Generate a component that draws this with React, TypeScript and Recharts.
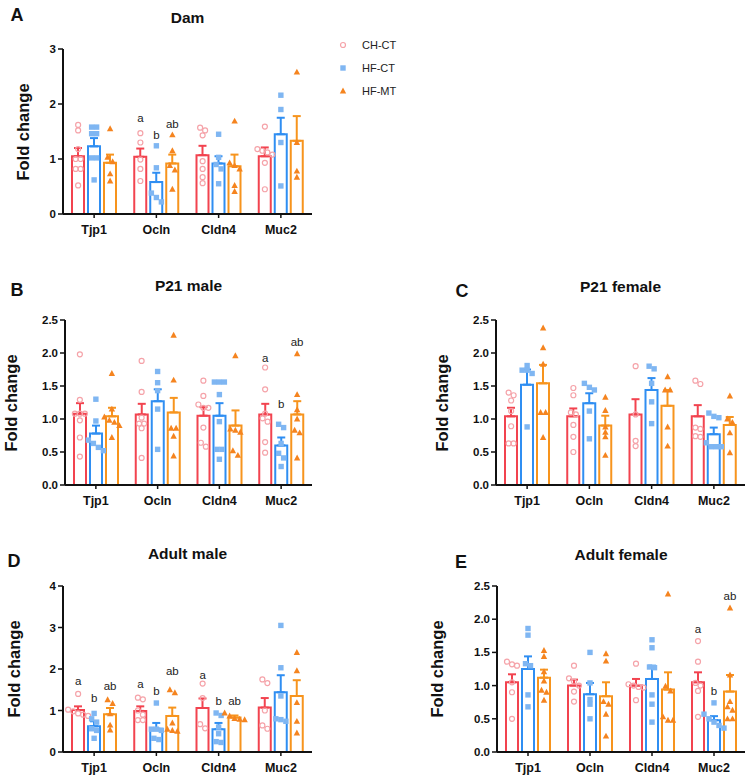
import React from "react";
import { ComposedChart, Bar, Scatter, XAxis, YAxis, ErrorBar } from "recharts";

const genes = ["Tjp1", "Ocln", "Cldn4", "Muc2"];
const groups = ["CH-CT", "HF-CT", "HF-MT"];

// rows: CH-CT, HF-CT, HF-MT ; columns follow genes
const damMean = [
  [1.05, 1.04, 1.07, 1.05],
  [1.23, 0.58, 0.92, 1.45],
  [0.93, 0.92, 0.87, 1.33],
];
const damSem = [
  [0.15, 0.15, 0.17, 0.16],
  [0.15, 0.17, 0.13, 0.3],
  [0.15, 0.16, 0.21, 0.45],
];
const damPoints = [
  [[1.62, 1.52, 1.18, 1.0, 1.0, 0.82, 0.82, 0.52], [1.47, 1.3, 0.99, 0.82, 0.6], [1.57, 1.52, 1.43, 0.96, 0.82, 0.67, 0.56], [1.59, 1.18, 1.15, 1.12, 1.08, 0.93, 0.45]],
  [[1.58, 1.58, 1.46, 1.46, 1.02, 1.02, 0.62], [1.24, 0.84, 0.38, 0.3, 0.22], [1.45, 1.03, 0.9, 0.82, 0.55], [2.16, 1.9, 1.3, 0.51]],
  [[1.55, 1.03, 0.95, 0.73, 0.6], [1.44, 1.15, 0.88, 0.8, 0.45], [1.69, 0.93, 0.88, 0.82, 0.52, 0.41], [2.58, 1.3, 0.78, 0.67]],
];
const damLetters = [
  { gene: "Ocln", g: 0, text: "a", v: 1.75 },
  { gene: "Ocln", g: 1, text: "b", v: 1.43 },
  { gene: "Ocln", g: 2, text: "ab", v: 1.64 },
];

const p21MaleMean = [
  [1.08, 1.07, 1.05, 1.07],
  [0.78, 1.27, 1.05, 0.6],
  [1.04, 1.1, 0.9, 1.07],
];
const p21MaleSem = [
  [0.16, 0.16, 0.13, 0.16],
  [0.12, 0.18, 0.19, 0.12],
  [0.13, 0.22, 0.23, 0.2],
];
const p21MalePoints = [
  [[1.98, 1.29, 1.08, 1.08, 1.08, 0.98, 0.72, 0.43], [1.88, 1.41, 1.02, 0.93, 0.93, 0.86, 0.41], [1.58, 1.35, 1.22, 1.17, 1.17, 0.87, 0.64, 0.58], [1.78, 1.45, 1.08, 1.01, 0.96, 0.65, 0.49]],
  [[1.3, 0.97, 0.68, 0.63, 0.57, 0.52], [1.72, 1.55, 1.43, 1.15, 0.54], [1.56, 1.56, 1.56, 1.37, 0.96, 0.54, 0.54, 0.39], [0.92, 0.87, 0.63, 0.48, 0.41, 0.28]],
  [[1.69, 1.15, 1.03, 0.98, 0.95, 0.9, 0.72], [2.27, 1.59, 0.86, 0.86, 0.74, 0.44], [1.96, 0.85, 0.83, 0.8, 0.52, 0.45], [1.99, 1.37, 1.14, 1.0, 0.83, 0.79, 0.41]],
];
const p21MaleLetters = [
  { gene: "Muc2", g: 0, text: "a", v: 1.93 },
  { gene: "Muc2", g: 1, text: "b", v: 1.22 },
  { gene: "Muc2", g: 2, text: "ab", v: 2.17 },
];

const p21FemaleMean = [
  [1.04, 1.04, 1.07, 1.04],
  [1.52, 1.24, 1.44, 0.77],
  [1.54, 0.9, 1.2, 0.91],
];
const p21FemaleSem = [
  [0.13, 0.12, 0.23, 0.17],
  [0.23, 0.15, 0.18, 0.1],
  [0.28, 0.15, 0.24, 0.12],
];
const p21FemalePoints = [
  [[1.4, 1.36, 1.28, 1.12, 0.89, 0.63, 0.63], [1.47, 1.36, 1.1, 1.07, 0.91, 0.73, 0.5], [1.8, 1.07, 0.67, 0.59], [1.58, 1.53, 0.87, 0.85, 0.74, 0.73]],
  [[1.81, 1.74, 1.74, 1.69, 0.88], [1.54, 1.48, 1.44, 1.12, 0.7], [1.8, 1.76, 1.54, 1.26, 0.93], [1.09, 1.04, 1.02, 0.64, 0.58, 0.58, 0.58]],
  [[2.38, 2.08, 1.83, 1.1, 1.1, 0.72], [1.33, 1.13, 0.88, 0.8, 0.73, 0.45], [1.64, 1.44, 1.44, 0.88, 0.59], [1.35, 1.0, 0.95, 0.79, 0.49]],
];

const adultMaleMean = [
  [1.01, 0.99, 1.06, 1.07],
  [0.62, 0.56, 0.55, 1.44],
  [0.91, 0.87, 0.83, 1.35],
];
const adultMaleSem = [
  [0.09, 0.11, 0.23, 0.23],
  [0.12, 0.14, 0.15, 0.41],
  [0.15, 0.2, 0.05, 0.38],
];
const adultMalePoints = [
  [[1.4, 1.02, 0.98, 0.93, 0.9, 0.87], [1.31, 1.27, 1.0, 0.9, 0.77, 0.77], [1.65, 1.3, 0.67, 0.57], [1.75, 1.66, 1.0, 0.64, 0.56]],
  [[0.93, 0.8, 0.72, 0.56, 0.52, 0.33], [1.18, 0.55, 0.55, 0.52, 0.33, 0.3], [0.94, 0.88, 0.6, 0.44, 0.25, 0.23], [3.05, 2.03, 1.35, 0.8, 0.78, 0.74]],
  [[1.26, 1.17, 0.92, 0.65, 0.53], [1.5, 1.43, 0.7, 0.55, 0.52, 0.5], [0.94, 0.87, 0.81, 0.79, 0.78], [2.4, 1.96, 1.19, 0.74, 0.46]],
];
const adultMaleLetters = [
  { gene: "Tjp1", g: 0, text: "a", v: 1.72 },
  { gene: "Tjp1", g: 1, text: "b", v: 1.31 },
  { gene: "Tjp1", g: 2, text: "ab", v: 1.59 },
  { gene: "Ocln", g: 0, text: "a", v: 1.63 },
  { gene: "Ocln", g: 1, text: "b", v: 1.48 },
  { gene: "Ocln", g: 2, text: "ab", v: 1.94 },
  { gene: "Cldn4", g: 0, text: "a", v: 1.86 },
  { gene: "Cldn4", g: 1, text: "b", v: 1.23 },
  { gene: "Cldn4", g: 2, text: "ab", v: 1.23 },
];

const adultFemaleMean = [
  [1.05, 1.0, 1.0, 1.05],
  [1.25, 0.87, 1.1, 0.48],
  [1.12, 0.84, 0.94, 0.91],
];
const adultFemaleSem = [
  [0.12, 0.09, 0.1, 0.15],
  [0.19, 0.17, 0.2, 0.06],
  [0.12, 0.21, 0.26, 0.25],
];
const adultFemalePoints = [
  [[1.36, 1.32, 1.3, 1.05, 0.9, 0.5], [1.3, 1.11, 1.06, 1.0, 0.91, 0.76], [1.33, 1.02, 1.0, 0.98, 0.97, 0.78], [1.67, 1.36, 1.04, 1.0, 0.92, 0.53]],
  [[1.86, 1.76, 1.33, 1.3, 0.86, 0.68], [1.5, 1.04, 0.79, 0.72, 0.5], [1.69, 1.57, 1.28, 1.27, 0.86, 0.72, 0.45], [0.74, 0.57, 0.5, 0.45, 0.4, 0.36]],
  [[1.53, 1.44, 1.21, 1.07, 0.93, 0.9, 0.78], [1.48, 1.37, 0.76, 0.72, 0.57, 0.24], [2.38, 0.99, 0.92, 0.53, 0.48, 0.48], [2.17, 1.16, 0.76, 0.68, 0.63, 0.5, 0.5]],
];
const adultFemaleLetters = [
  { gene: "Muc2", g: 0, text: "a", v: 1.85 },
  { gene: "Muc2", g: 1, text: "b", v: 0.92 },
  { gene: "Muc2", g: 2, text: "ab", v: 2.35 },
];

const BAR_COLORS = ["#f2434f", "#2f8ef2", "#f7941d"];
const DOT_COLORS = ["#f5a3a9", "#7fb6f2", "#f5841f"];
const INK = "#111";
const FONT = "'Liberation Sans', Arial, Helvetica, sans-serif";
const BAR_SIZE = 12;
const BAR_GAP = 4;
const SPREAD = 5;
const Y_AXIS_W = 40;

type Letter = { gene: string; g: number; text: string; v: number };

// points with nearly the same value are laid side by side
function spreadSlots(values: number[], tol: number) {
  const order = values.map((v, i) => ({ v, i })).sort((a, b) => b.v - a.v);
  const slot = new Array(values.length).fill(0);
  let start = 0;
  for (let k = 1; k <= order.length; k++) {
    if (k === order.length || order[k - 1].v - order[k].v > tol) {
      const n = k - start;
      for (let j = start; j < k; j++) slot[order[j].i] = j - start - (n - 1) / 2;
      start = k;
    }
  }
  return slot;
}

const groupShift = (g: number) => (g - 1) * (BAR_SIZE + BAR_GAP);

const Marker = (props: any) => {
  const { cx, cy, payload } = props;
  if (cx == null || cy == null) return null;
  const x = cx + groupShift(payload.g) + payload.slot * SPREAD;
  if (payload.g === 0)
    return <circle cx={x} cy={cy} r={2.5} fill="none" stroke={DOT_COLORS[0]} strokeWidth={1.2} />;
  if (payload.g === 1)
    return <rect x={x - 2.7} y={cy - 2.7} width={5.4} height={5.4} fill={DOT_COLORS[1]} />;
  return (
    <path
      d={`M${x},${cy - 3.4}L${x + 3.2},${cy + 2.5}L${x - 3.2},${cy + 2.5}Z`}
      fill={DOT_COLORS[2]}
    />
  );
};

const LetterMark = (props: any) => {
  const { cx, cy, payload } = props;
  if (cx == null || cy == null) return null;
  return (
    <text
      x={cx + groupShift(payload.g)}
      y={cy}
      textAnchor="middle"
      dominantBaseline="central"
      fontSize={11.5}
      fontFamily={FONT}
      fill="#222"
    >
      {payload.text}
    </text>
  );
};

interface PanelProps {
  letter: string;
  title: string;
  means: number[][];
  sems: number[][];
  points: number[][][];
  letters: Letter[];
  yMax: number;
  yTicks: number[];
  decimals: number;
  plot: { left: number; right: number; top: number; bottom: number };
  labelX: number;
  letterPos: [number, number];
  titleY: number;
}

const Panel: React.FC<PanelProps> = ({
  letter,
  title,
  means,
  sems,
  points,
  letters,
  yMax,
  yTicks,
  decimals,
  plot,
  labelX,
  letterPos,
  titleY,
}) => {
  const rows = genes.map((gene, i) => {
    const row: any = { gene };
    groups.forEach((_, g) => {
      row[`m${g}`] = means[g][i];
      row[`e${g}`] = [0, sems[g][i]];
    });
    return row;
  });

  const dots = groups.map((_, g) =>
    genes.flatMap((gene, i) => {
      const vals = points[g][i];
      const slots = spreadSlots(vals, yMax * 0.028);
      return vals.map((v, k) => ({ gene, v, g, slot: slots[k] }));
    })
  );

  const plotW = plot.right - plot.left;
  const plotH = plot.bottom - plot.top;
  const width = plotW + Y_AXIS_W + 6;
  const height = plotH + 10 + 30;
  const midY = (plot.top + plot.bottom) / 2;
  const midX = (plot.left + plot.right) / 2;

  return (
    <>
      <div
        style={{
          position: "absolute",
          left: letterPos[0],
          top: letterPos[1],
          transform: "translate(-50%, -50%)",
          fontSize: 18,
          fontWeight: 700,
          color: INK,
        }}
      >
        {letter}
      </div>
      <div
        style={{
          position: "absolute",
          left: midX,
          top: titleY,
          transform: "translate(-50%, -50%)",
          fontSize: 15.5,
          fontWeight: 700,
          color: INK,
          whiteSpace: "nowrap",
        }}
      >
        {title}
      </div>
      <div
        style={{
          position: "absolute",
          left: labelX,
          top: midY,
          transform: "translate(-50%, -50%) rotate(-90deg)",
          fontSize: 16.5,
          fontWeight: 700,
          color: INK,
          whiteSpace: "nowrap",
        }}
      >
        Fold change
      </div>
      <div style={{ position: "absolute", left: plot.left - Y_AXIS_W, top: plot.top - 10 }}>
        <ComposedChart
          width={width}
          height={height}
          data={rows}
          barGap={BAR_GAP}
          margin={{ top: 10, right: 6, left: 0, bottom: 0 }}
        >
          <XAxis
            dataKey="gene"
            allowDuplicatedCategory={false}
            interval={0}
            height={30}
            tickSize={4}
            tickMargin={7}
            axisLine={{ stroke: INK, strokeWidth: 2 }}
            tickLine={{ stroke: INK, strokeWidth: 1.5 }}
            tick={{ fontSize: 12.5, fontWeight: 700, fill: INK, fontFamily: FONT }}
          />
          <YAxis
            width={Y_AXIS_W}
            domain={[0, yMax]}
            ticks={yTicks}
            interval={0}
            allowDataOverflow
            tickSize={5}
            tickFormatter={(v: number) => v.toFixed(decimals)}
            axisLine={{ stroke: INK, strokeWidth: 2 }}
            tickLine={{ stroke: INK, strokeWidth: 1.5 }}
            tick={{ fontSize: 11.5, fontWeight: 700, fill: INK, fontFamily: FONT }}
          />
          {groups.map((name, g) => (
            <Bar
              key={name}
              dataKey={`m${g}`}
              barSize={BAR_SIZE}
              fill="none"
              stroke={BAR_COLORS[g]}
              strokeWidth={2}
              isAnimationActive={false}
            >
              <ErrorBar
                dataKey={`e${g}`}
                direction="y"
                width={4}
                stroke={BAR_COLORS[g]}
                strokeWidth={2}
              />
            </Bar>
          ))}
          {groups.map((name, g) => (
            <Scatter
              key={`dots-${name}`}
              data={dots[g]}
              dataKey="v"
              shape={(p: any) => <Marker {...p} />}
              isAnimationActive={false}
            />
          ))}
          {letters.length > 0 && (
            <Scatter
              data={letters}
              dataKey="v"
              shape={(p: any) => <LetterMark {...p} />}
              isAnimationActive={false}
            />
          )}
        </ComposedChart>
      </div>
    </>
  );
};

const Legend = () => (
  <div style={{ position: "absolute", left: 337, top: 34 }}>
    {groups.map((name, g) => (
      <div
        key={name}
        style={{ display: "flex", alignItems: "center", height: 22.7, fontSize: 11, color: "#222" }}
      >
        <svg width={12} height={10} style={{ display: "block", marginRight: 13 }}>
          {g === 0 && <circle cx={6} cy={5} r={2.5} fill="none" stroke={DOT_COLORS[0]} strokeWidth={1.2} />}
          {g === 1 && <rect x={3.3} y={2.3} width={5.4} height={5.4} fill={DOT_COLORS[1]} />}
          {g === 2 && <path d="M6,1.6L9.2,7.5L2.8,7.5Z" fill={DOT_COLORS[2]} />}
        </svg>
        <span>{name}</span>
      </div>
    ))}
  </div>
);

export default function App() {
  return (
    <div
      style={{
        position: "absolute",
        left: 0,
        top: 0,
        width: 746,
        height: 777,
        background: "#fff",
        fontFamily: FONT,
        overflow: "hidden",
      }}
    >
      <Panel
        letter="A"
        title="Dam"
        means={damMean}
        sems={damSem}
        points={damPoints}
        letters={damLetters}
        yMax={3}
        yTicks={[0, 1, 2, 3]}
        decimals={0}
        plot={{ left: 63, right: 312, top: 49, bottom: 214 }}
        labelX={23}
        letterPos={[17, 15]}
        titleY={18}
      />
      <Legend />
      <Panel
        letter="B"
        title="P21 male"
        means={p21MaleMean}
        sems={p21MaleSem}
        points={p21MalePoints}
        letters={p21MaleLetters}
        yMax={2.5}
        yTicks={[0, 0.5, 1, 1.5, 2, 2.5]}
        decimals={1}
        plot={{ left: 65, right: 312, top: 320, bottom: 485 }}
        labelX={11}
        letterPos={[17, 290]}
        titleY={286}
      />
      <Panel
        letter="C"
        title="P21 female"
        means={p21FemaleMean}
        sems={p21FemaleSem}
        points={p21FemalePoints}
        letters={[]}
        yMax={2.5}
        yTicks={[0, 0.5, 1, 1.5, 2, 2.5]}
        decimals={1}
        plot={{ left: 496, right: 745, top: 320, bottom: 485 }}
        labelX={442}
        letterPos={[462, 291]}
        titleY={287}
      />
      <Panel
        letter="D"
        title="Adult male"
        means={adultMaleMean}
        sems={adultMaleSem}
        points={adultMalePoints}
        letters={adultMaleLetters}
        yMax={4}
        yTicks={[0, 1, 2, 3, 4]}
        decimals={0}
        plot={{ left: 63, right: 312, top: 586, bottom: 752 }}
        labelX={14}
        letterPos={[14, 561]}
        titleY={554}
      />
      <Panel
        letter="E"
        title="Adult female"
        means={adultFemaleMean}
        sems={adultFemaleSem}
        points={adultFemalePoints}
        letters={adultFemaleLetters}
        yMax={2.5}
        yTicks={[0, 0.5, 1, 1.5, 2, 2.5]}
        decimals={1}
        plot={{ left: 497, right: 745, top: 586, bottom: 752 }}
        labelX={437}
        letterPos={[461, 562]}
        titleY={555}
      />
    </div>
  );
}
